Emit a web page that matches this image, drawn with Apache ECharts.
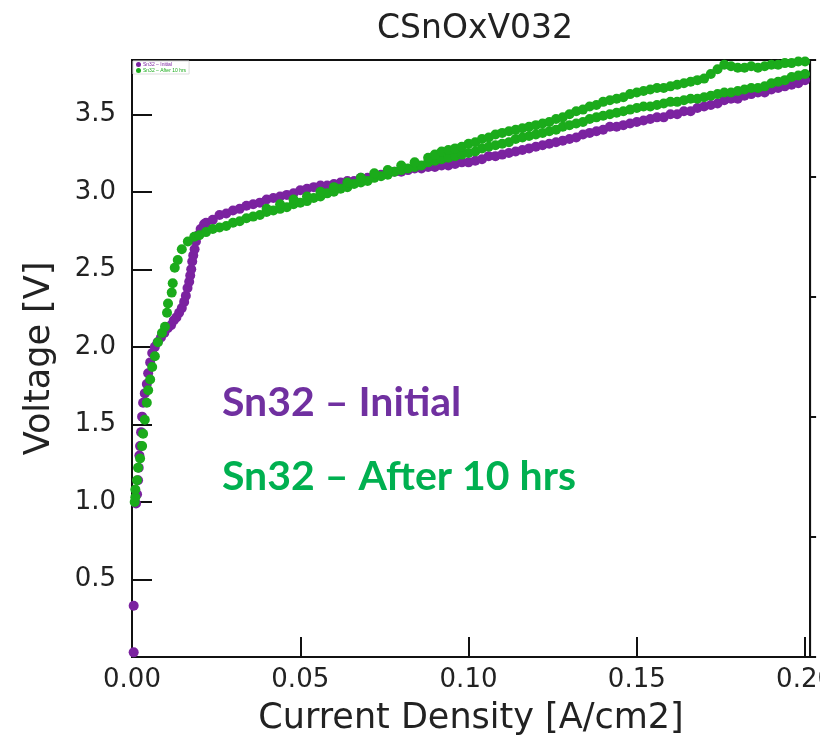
<!DOCTYPE html>
<html>
<head>
<meta charset="utf-8">
<script src="https://cdn.jsdelivr.net/npm/echarts@6/dist/echarts.min.js"></script>
<style>
html,body{margin:0;padding:0;background:#fff;}
#wrap{width:820px;height:743px;overflow:hidden;position:relative;}
#chart{width:837px;height:743px;}
</style>
</head>
<body>
<div id="wrap"><div id="chart"></div></div>
<script>
// ---- data (current density A/cm2, voltage V) ----
const chartTitle = 'CSnOxV032';
const xTickLabels = ['0.00','0.05','0.10','0.15','0.20'];
const yTickLabels = ['0.5','1.0','1.5','2.0','2.5','3.0','3.5'];
const seriesNames = ['Sn32 \u2013 Initial', 'Sn32 \u2013 After 10 hrs'];

const initialLow = [
  [0.0005,0.03],[0.0005,0.33],[0.0012,0.99],[0.0015,1.05],[0.0018,1.14],[0.0020,1.22],[0.0022,1.30],
  [0.0024,1.36],[0.0027,1.45],[0.0030,1.55],[0.0033,1.64],[0.0038,1.70],[0.0044,1.76],[0.0048,1.83],
  [0.0054,1.90],[0.0060,1.96],[0.0068,2.00],[0.0076,2.03],[0.0086,2.06],[0.0096,2.09],[0.0106,2.12],
  [0.0116,2.14],[0.0124,2.17],[0.0132,2.19],[0.0140,2.22],[0.0148,2.25],[0.0155,2.29],[0.0160,2.33],
  [0.0165,2.38],[0.0170,2.42],[0.0173,2.46],[0.0176,2.50],[0.0179,2.55],[0.0182,2.59],[0.0186,2.63],
  [0.0190,2.68],[0.0196,2.72],[0.0204,2.76],[0.0214,2.79]
];
const initialHigh = [
  [0.022,2.80],[0.024,2.82],[0.026,2.85],[0.028,2.86],[0.030,2.88],[0.032,2.89],[0.034,2.91],[0.036,2.92],
  [0.038,2.93],[0.040,2.95],[0.042,2.96],[0.044,2.97],[0.046,2.98],[0.048,2.99],[0.050,3.01],[0.052,3.02],
  [0.054,3.03],[0.056,3.04],[0.058,3.04],[0.060,3.05],[0.062,3.06],[0.064,3.07],[0.066,3.07],[0.068,3.09],
  [0.070,3.09],[0.072,3.10],[0.074,3.11],[0.076,3.12],[0.078,3.13],[0.080,3.13],[0.082,3.14],[0.084,3.15],
  [0.086,3.15],[0.088,3.16],[0.090,3.16],[0.092,3.17],[0.094,3.17],[0.096,3.18],[0.098,3.19],[0.100,3.19],
  [0.102,3.20],[0.104,3.21],[0.106,3.23],[0.108,3.23],[0.110,3.24],[0.112,3.25],[0.114,3.26],[0.116,3.27],
  [0.118,3.28],[0.120,3.29],[0.122,3.30],[0.124,3.31],[0.126,3.32],[0.128,3.33],[0.130,3.34],[0.132,3.35],
  [0.134,3.37],[0.136,3.38],[0.138,3.39],[0.140,3.40],[0.142,3.42],[0.144,3.42],[0.146,3.43],[0.148,3.44],
  [0.150,3.45],[0.152,3.46],[0.154,3.47],[0.156,3.48],[0.158,3.48],[0.160,3.50],[0.162,3.50],[0.164,3.52],
  [0.166,3.52],[0.168,3.54],[0.170,3.55],[0.172,3.56],[0.174,3.57],[0.176,3.59],[0.178,3.60],[0.180,3.60],
  [0.182,3.62],[0.184,3.63],[0.186,3.64],[0.188,3.64],[0.190,3.66],[0.192,3.67],[0.194,3.68],[0.196,3.69],
  [0.198,3.70],[0.200,3.72]
];
const afterLow = [
  [0.0008,1.00],[0.0010,1.03],[0.0010,1.08],[0.0015,1.14],[0.0018,1.22],[0.0024,1.28],[0.0030,1.36],
  [0.0033,1.44],[0.0038,1.53],[0.0044,1.64],[0.0048,1.72],[0.0054,1.79],[0.0060,1.87],[0.0068,1.94],
  [0.0077,2.03],[0.0089,2.09],[0.0098,2.13],[0.0104,2.22],[0.0107,2.28],[0.0118,2.35],[0.0121,2.41],
  [0.0127,2.51],[0.0136,2.56],[0.0148,2.63],[0.0166,2.68],[0.0185,2.71]
];
const afterPassA = [
  [0.020,2.72],[0.022,2.74],[0.024,2.76],[0.026,2.77],[0.028,2.78],[0.030,2.80],[0.032,2.81],[0.034,2.83],
  [0.036,2.84],[0.038,2.85],[0.040,2.87],[0.042,2.88],[0.044,2.89],[0.046,2.90],[0.048,2.92],[0.050,2.93],
  [0.052,2.94],[0.054,2.96],[0.056,2.97],[0.058,2.99],[0.060,3.00],[0.062,3.02],[0.064,3.03],[0.066,3.05],
  [0.068,3.06],[0.070,3.07],[0.072,3.09],[0.074,3.10],[0.076,3.11],[0.078,3.13],[0.080,3.14],[0.082,3.15],
  [0.084,3.16],[0.086,3.17],[0.088,3.19],[0.090,3.20],[0.092,3.21],[0.094,3.22],[0.096,3.23],[0.098,3.24],
  [0.100,3.25],[0.102,3.26],[0.104,3.28],[0.106,3.29],[0.108,3.30],[0.110,3.31],[0.112,3.32],[0.114,3.34],
  [0.116,3.35],[0.118,3.36],[0.120,3.37],[0.122,3.38],[0.124,3.39],[0.126,3.40],[0.128,3.42],[0.130,3.43],
  [0.132,3.44],[0.134,3.45],[0.136,3.47],[0.138,3.48],[0.140,3.49],[0.142,3.50],[0.144,3.51],[0.146,3.52],
  [0.148,3.53],[0.150,3.54],[0.152,3.55],[0.154,3.55],[0.156,3.56],[0.158,3.57],[0.160,3.58],[0.162,3.58],
  [0.164,3.59],[0.166,3.60],[0.168,3.60],[0.170,3.61],[0.172,3.62],[0.174,3.63],[0.176,3.64],[0.178,3.64],
  [0.180,3.65],[0.182,3.66],[0.184,3.67],[0.186,3.67],[0.188,3.68],[0.190,3.70],[0.192,3.71],[0.194,3.72],
  [0.196,3.74],[0.198,3.75],[0.200,3.76]
];
const afterPassB = [
  [0.040,2.89],[0.044,2.92],[0.048,2.95],[0.052,2.97],[0.056,3.00],[0.060,3.03],[0.064,3.06],[0.068,3.09],
  [0.072,3.12],[0.076,3.14],[0.080,3.17],[0.084,3.19],[0.088,3.22],[0.090,3.24],[0.092,3.26],[0.094,3.27],
  [0.096,3.28],[0.098,3.29],[0.100,3.31],[0.102,3.32],[0.104,3.34],[0.106,3.35],[0.108,3.37],[0.110,3.38],
  [0.112,3.39],[0.114,3.40],[0.116,3.41],[0.118,3.42],[0.120,3.43],[0.122,3.44],[0.124,3.45],[0.126,3.47],
  [0.128,3.48],[0.130,3.50],[0.132,3.52],[0.134,3.53],[0.136,3.55],[0.138,3.56],[0.140,3.58],[0.142,3.59],
  [0.144,3.60],[0.146,3.61],[0.148,3.63],[0.150,3.64],[0.152,3.65],[0.154,3.66],[0.156,3.67],[0.158,3.67],
  [0.160,3.68],[0.162,3.69],[0.164,3.70],[0.166,3.71],[0.168,3.72],[0.170,3.73],[0.172,3.76],[0.174,3.79],
  [0.176,3.82],[0.178,3.81],[0.180,3.80],[0.182,3.80],[0.184,3.81],[0.186,3.80],[0.188,3.81],[0.190,3.82],
  [0.192,3.82],[0.194,3.83],[0.196,3.83],[0.198,3.84],[0.200,3.84]
];

const initialPoints = initialLow.concat(initialHigh);
const afterPoints = afterLow.concat(afterPassA, afterPassB);

const purpleDot = '#7b22a0';
const greenDot = '#1bab1b';
const tickFont = 'DejaVu Sans';

const chart = echarts.init(document.getElementById('chart'), null, {renderer:'canvas'});
chart.setOption({
  animation: false,
  backgroundColor: '#fff',
  title: {
    text: chartTitle, left: 470, top: 8, textAlign: 'center',
    textStyle: {fontFamily: tickFont, fontSize: 33, fontWeight: 'normal', color: '#222'}
  },
  legend: {
    left: 133, top: 61, orient: 'vertical', itemWidth: 5, itemHeight: 5, itemGap: 1,
    padding: [1, 3], borderColor: '#ddd', borderWidth: 1, icon: 'circle',
    textStyle: {fontSize: 5, color: 'inherit', padding: [0, 0, 0, -3]},
    data: seriesNames
  },
  grid: {left: 132, top: 60, width: 682, height: 597, show: true, borderColor: '#111', borderWidth: 2, backgroundColor: 'transparent'},
  xAxis: {
    type: 'value', min: 0, max: 0.2015, interval: 0.05,
    name: 'Current Density [A/cm2]', nameLocation: 'middle', nameGap: 44,
    nameTextStyle: {fontFamily: tickFont, fontSize: 35, color: '#222'},
    axisLine: {lineStyle: {color: '#111', width: 2}},
    axisTick: {inside: true, length: 20, lineStyle: {color: '#111', width: 2}},
    axisLabel: {margin: 10, fontFamily: tickFont, fontSize: 26, color: '#222',
      formatter: v => xTickLabels[Math.round(v / 0.05)] || ''},
    splitLine: {show: false}
  },
  yAxis: [{
    type: 'value', min: 0, max: 3.85, interval: 0.5,
    name: 'Voltage [V]', nameLocation: 'middle', nameGap: 75,
    nameTextStyle: {fontFamily: tickFont, fontSize: 35, color: '#222'},
    axisLine: {lineStyle: {color: '#111', width: 2}},
    axisTick: {inside: true, length: 20, lineStyle: {color: '#111', width: 2}},
    axisLabel: {margin: 16, fontFamily: tickFont, fontSize: 26, color: '#222',
      formatter: v => { const i = Math.round(v / 0.5) - 1; return i >= 0 ? (yTickLabels[i] || '') : ''; }},
    splitLine: {show: false}
  }, {
    type: 'value', position: 'right', min: 0, max: 4.975, interval: 1,
    axisLine: {show: true, lineStyle: {color: '#111', width: 2}},
    axisTick: {show: true, inside: false, length: 6, lineStyle: {color: '#111', width: 2}},
    axisLabel: {show: false},
    splitLine: {show: false}
  }],
  series: [{
    name: seriesNames[0], type: 'scatter', data: initialPoints, symbolSize: 10,
    itemStyle: {color: purpleDot, opacity: 1}, z: 2
  }, {
    name: seriesNames[1], type: 'scatter', data: afterPoints, symbolSize: 10,
    itemStyle: {color: greenDot, opacity: 1}, z: 3
  }],
  graphic: [{
    type: 'text', left: 222, top: 382,
    style: {text: seriesNames[0], font: 'bold 41px Lato', fill: '#7030a0'}
  }, {
    type: 'text', left: 222, top: 456,
    style: {text: seriesNames[1], font: 'bold 41px Lato', fill: '#00b050'}
  }]
});
</script>
</body>
</html>
